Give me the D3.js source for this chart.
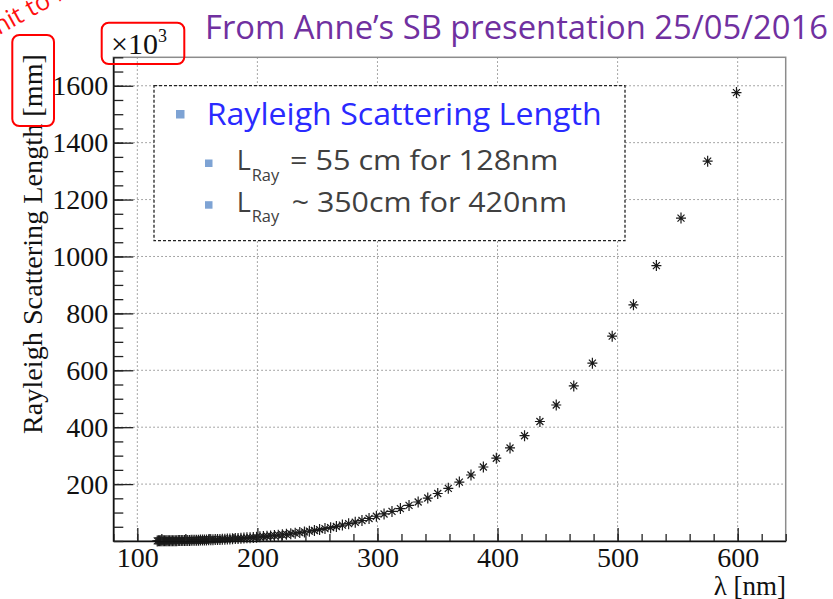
<!DOCTYPE html>
<html>
<head>
<meta charset="utf-8">
<script src="https://cdn.jsdelivr.net/npm/d3@7"></script>
<style>
  body { margin: 0; background: #fff; }
  svg { display: block; }
  .serif { font-family: "Liberation Serif", "Times New Roman", serif; }
</style>
</head>
<body>
<div id="chart"></div>
<script>
// wavelength [nm]
var wavelength = [
  599.0, 575.0, 552.8, 532.3, 513.2, 495.5, 479.0, 463.5, 448.9, 435.3,
  422.5, 410.4, 399.0, 388.2, 377.9, 368.2, 359.0, 350.2, 341.9, 333.9,
  326.3, 319.1, 312.1, 305.5, 299.1, 293.0, 287.1, 281.5, 276.0, 270.8,
  265.8, 261.0, 256.3, 251.8, 247.5, 243.3, 239.2, 235.3, 231.5, 227.8,
  224.2, 220.8, 217.4, 214.2, 211.0, 208.0, 205.0, 202.1, 199.3, 196.6,
  193.9, 191.3, 188.8, 186.3, 183.9, 181.6, 179.3, 177.1, 175.0, 172.9,
  170.8, 168.8, 166.8, 164.9, 163.0, 161.2, 159.4, 157.6, 155.9, 154.3,
  152.6, 151.0, 149.4, 147.9, 146.4, 144.9, 143.5, 142.0, 140.6, 139.3,
  137.9, 136.6, 135.3, 134.1, 132.8, 131.6, 130.4, 129.2, 128.1, 126.9,
  125.8, 124.7, 123.7, 122.6, 121.6, 120.5, 119.5, 118.5, 117.6, 116.6
];

// Rayleigh scattering length [x10^3 mm]
var scatLength = [
  1576, 1335, 1135, 968, 830, 720, 625, 545, 478, 420,
  370, 327, 291, 260, 232, 207, 185, 167, 151, 137,
  125, 114, 104, 95, 87, 79, 72, 66, 61, 56,
  51, 47, 43.5, 40, 37, 34.5, 32, 29.5, 27.5, 25.5,
  23.5, 22, 20.5, 19, 17.8, 16.6, 15.5, 14.5, 13.5, 12.6,
  11.8, 11, 10.3, 9.6, 9.0, 8.4, 7.9, 7.4, 6.9, 6.5,
  6.1, 5.7, 5.3, 5.0, 4.7, 4.4, 4.1, 3.8, 3.6, 3.4,
  3.2, 3.0, 2.8, 2.6, 2.4, 2.3, 2.1, 2.0, 1.9, 1.8,
  1.7, 1.6, 1.5, 1.4, 1.3, 1.2, 1.1, 1.0, 0.9, 0.85,
  0.8, 0.75, 0.7, 0.65, 0.6, 0.55, 0.5, 0.47, 0.44, 0.4
];

var xTicks = [100, 200, 300, 400, 500, 600];
var yTicks = [200, 400, 600, 800, 1000, 1200, 1400, 1600];
var xMinor = d3.range(80, 641, 20);
var yMinor = d3.range(0, 1701, 50);

var titleText = "From Anne\u2019s SB presentation 25/05/2016";
var legendTitle = "Rayleigh Scattering Length";
var legendLines = ["= 55 cm for 128nm", "~ 350cm for 420nm"];

var W = 833, H = 599;
var padL = 113.3, padR = 785.7, padT = 57.3, padB = 541;

var svg = d3.select('#chart').append('svg')
  .attr('width', W)
  .attr('height', H);

svg.append('rect').attr('width', W).attr('height', H).attr('fill', '#fff');

var x = d3.scaleLinear().domain([80, 640]).range([padL, padR]);
var y = d3.scaleLinear().domain([0, 1700]).range([padB, padT]);

// grid
var grid = svg.append('g')
  .attr('stroke', '#8a8a8a')
  .attr('stroke-width', 1)
  .attr('stroke-dasharray', '1.5,2.5');

grid.selectAll('line.gx')
  .data(xTicks)
  .enter().append('line')
  .attr('x1', function (d) { return x(d); })
  .attr('x2', function (d) { return x(d); })
  .attr('y1', padT)
  .attr('y2', padB);

grid.selectAll('line.gy')
  .data(yTicks)
  .enter().append('line')
  .attr('x1', padL)
  .attr('x2', padR)
  .attr('y1', function (d) { return y(d); })
  .attr('y2', function (d) { return y(d); });

// frame (top / right in grey)
svg.append('rect')
  .attr('x', padL).attr('y', padT)
  .attr('width', padR - padL).attr('height', padB - padT)
  .attr('fill', 'none')
  .attr('stroke', '#8c8c8c')
  .attr('stroke-width', 1.5);

// points, ROOT style "*" markers
var star = 'M-5,0H5M0,-5.5V5.5M-3.5,-3.5L3.5,3.5M-3.5,3.5L3.5,-3.5';
svg.append('g')
  .attr('class', 'points')
  .selectAll('path')
  .data(wavelength.map(function (d, i) { return { lambda: d, value: scatLength[i] }; }))
  .enter().append('path')
  .attr('d', star)
  .attr('transform', function (d) { return 'translate(' + x(d.lambda) + ',' + y(d.value) + ')'; })
  .attr('stroke', '#1a1a1a')
  .attr('stroke-width', 1.2)
  .attr('fill', 'none');

// axes
function styleAxis(g) {
  g.selectAll('path.domain').attr('stroke', '#111').attr('stroke-width', 1.6);
  g.selectAll('.tick line').attr('stroke', '#222').attr('stroke-width', 1.3);
  g.selectAll('text')
    .attr('class', 'serif')
    .attr('font-size', 28)
    .attr('fill', '#111');
}

svg.append('g')
  .attr('transform', 'translate(0,' + padB + ')')
  .call(d3.axisBottom(x).tickValues(xMinor).tickSize(-7).tickSizeOuter(0).tickFormat(''))
  .call(styleAxis);

svg.append('g')
  .attr('transform', 'translate(0,' + padB + ')')
  .call(d3.axisBottom(x).tickValues(xTicks).tickSize(-13).tickSizeOuter(0).tickPadding(6)
    .tickFormat(d3.format('d')))
  .call(styleAxis)
  .call(function (g) { g.select('.domain').remove(); });

svg.append('g')
  .attr('transform', 'translate(' + padL + ',0)')
  .call(d3.axisLeft(y).tickValues(yMinor).tickSize(-10).tickSizeOuter(0).tickFormat(''))
  .call(styleAxis);

svg.append('g')
  .attr('transform', 'translate(' + padL + ',0)')
  .call(d3.axisLeft(y).tickValues(yTicks).tickSize(-20).tickSizeOuter(0).tickPadding(5)
    .tickFormat(d3.format('d')))
  .call(styleAxis)
  .call(function (g) { g.select('.domain').remove(); });

// axis titles
svg.append('text')
  .attr('class', 'serif')
  .attr('transform', 'translate(42,244) rotate(-90)')
  .attr('text-anchor', 'middle')
  .attr('font-size', 28)
  .attr('fill', '#111')
  .attr('textLength', 380)
  .attr('lengthAdjust', 'spacingAndGlyphs')
  .text('Rayleigh Scattering Length [mm]');

svg.append('text')
  .attr('class', 'serif')
  .attr('x', 786).attr('y', 595)
  .attr('text-anchor', 'end')
  .attr('font-size', 27)
  .attr('fill', '#111')
  .text('\u03bb [nm]');

var expo = svg.append('text')
  .attr('class', 'serif')
  .attr('x', 111).attr('y', 54)
  .attr('font-size', 30)
  .attr('fill', '#111')
  .text('\u00d710');
expo.append('tspan')
  .attr('font-size', 18)
  .attr('dy', -12)
  .text('3');

// legend box
var legend = svg.append('g');
legend.append('rect')
  .attr('x', 154).attr('y', 85.7)
  .attr('width', 471).attr('height', 155)
  .attr('fill', '#fff')
  .attr('stroke', '#222')
  .attr('stroke-width', 1.3)
  .attr('stroke-dasharray', '3,2');

var sans = '"Open Sans", "Noto Sans", sans-serif';

legend.append('rect')
  .attr('x', 176).attr('y', 110).attr('width', 8.5).attr('height', 8.5)
  .attr('fill', '#7ea3d4');

legend.append('text')
  .attr('x', 206.7).attr('y', 125)
  .attr('font-family', sans)
  .attr('font-size', 31)
  .attr('fill', '#2a2aff')
  .attr('textLength', 395)
  .attr('lengthAdjust', 'spacingAndGlyphs')
  .text(legendTitle);

var lineY = [170, 211.7];
var lineEnd = [558.3, 567];
legendLines.forEach(function (s, i) {
  legend.append('rect')
    .attr('x', 205).attr('y', lineY[i] - 10.5).attr('width', 7.5).attr('height', 7.5)
    .attr('fill', '#7ea3d4');
  legend.append('text')
    .attr('x', 236.7).attr('y', lineY[i])
    .attr('font-family', sans)
    .attr('font-size', 27)
    .attr('fill', '#404040')
    .text('L');
  legend.append('text')
    .attr('x', 251.7).attr('y', lineY[i] + 10.5)
    .attr('font-family', sans)
    .attr('font-size', 16)
    .attr('fill', '#404040')
    .attr('textLength', 27.5)
    .attr('lengthAdjust', 'spacingAndGlyphs')
    .text('Ray');
  var startX = i === 0 ? 290 : 291.7;
  legend.append('text')
    .attr('x', startX).attr('y', lineY[i])
    .attr('font-family', sans)
    .attr('font-size', 27)
    .attr('fill', '#404040')
    .attr('textLength', lineEnd[i] - startX)
    .attr('lengthAdjust', 'spacingAndGlyphs')
    .text(s);
});

// slide annotations
svg.append('text')
  .attr('x', 205).attr('y', 39)
  .attr('font-family', sans)
  .attr('font-size', 32)
  .attr('fill', '#7030a0')
  .attr('textLength', 623)
  .attr('lengthAdjust', 'spacingAndGlyphs')
  .text(titleText);

svg.append('text')
  .attr('transform', 'translate(-17,44) rotate(-29)')
  .attr('font-family', sans)
  .attr('font-size', 25)
  .attr('fill', '#ff1010')
  .text('Unit to be checked');

var boxes = svg.append('g')
  .attr('fill', 'none')
  .attr('stroke', '#ff0000')
  .attr('stroke-width', 2);
boxes.append('rect')
  .attr('x', 101.7).attr('y', 22.7).attr('width', 82.6).attr('height', 41.3)
  .attr('rx', 7);
boxes.append('rect')
  .attr('x', 12.3).attr('y', 35).attr('width', 41.7).attr('height', 91)
  .attr('rx', 7);
</script>
</body>
</html>
